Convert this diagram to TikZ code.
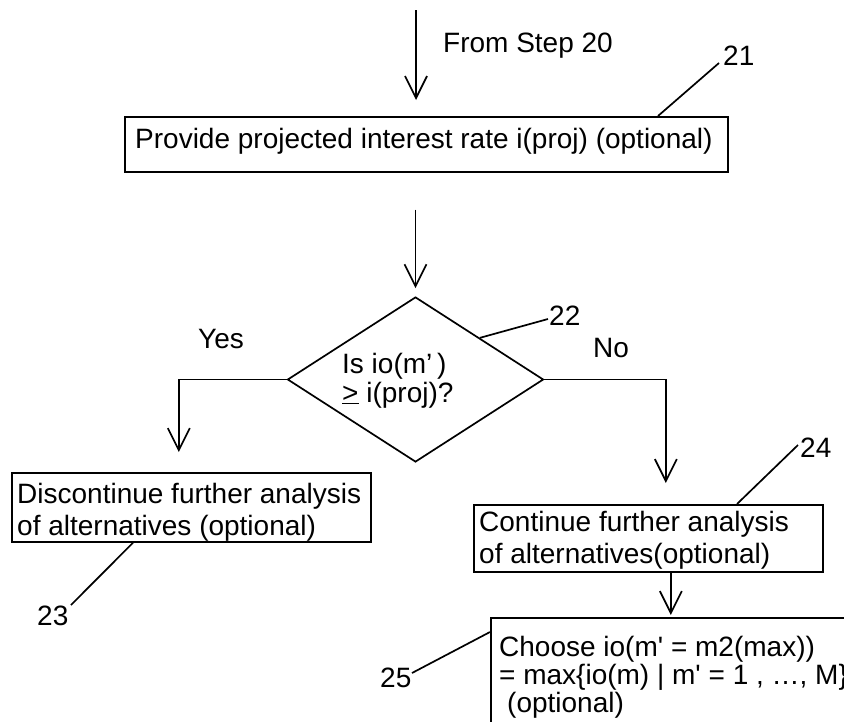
\documentclass[tikz,border=0pt]{standalone}
\usepackage{fontspec}
\setmainfont{Liberation Sans}
\usetikzlibrary{arrows.meta,shapes.geometric}
\begin{document}
\begin{tikzpicture}[x=1pt,y=-1pt,
  ln/.style={line width=1.7pt},
  arr/.style={ln,-{Straight Barb[length=22pt,width=22pt]}},
  boxs/.style={draw,ln,rectangle,inner sep=0pt,anchor=north west},
  txt/.style={inner sep=0pt,font=\fontsize{28}{32}\selectfont},
  lbl/.style={txt,anchor=base west},
  blk/.style={txt,anchor=north west,align=left},
]
\useasboundingbox (0,0) rectangle (844,721);
\clip (0,0) rectangle (844,721);

% boxes
\node[boxs,minimum width=603pt,minimum height=55pt] (b21) at (124,116) {};
\node[draw,ln,diamond,minimum width=256pt,minimum height=165pt,inner sep=0pt] (dia) at (415.5,379.5) {};
\node[boxs,minimum width=359pt,minimum height=69pt] (b23) at (11,472) {};
\node[boxs,minimum width=349pt,minimum height=67pt] (b24) at (473,504) {};
\node[boxs,minimum width=420pt,minimum height=160pt] (b25) at (490,617) {};

% texts
\node[lbl] (from) at (443,52) {From Step 20};
\node[lbl] (t21) at (135,148) {Provide projected interest rate i(proj) (optional)};
\node[blk,font=\fontsize{28}{29}\selectfont] (tdia) at (342,352.6) {Is io(m’\,)\\\underline{>} i(proj)?};
\node[blk] (t23) at (17,483) {Discontinue further analysis\\of alternatives (optional)};
\node[blk] (t24) at (479,511.3) {Continue further analysis\\of alternatives(optional)};
\node[blk,font=\fontsize{28}{28}\selectfont] (t25) at (499,635.8) {Choose io(m\textquotesingle{} = m2(max))\\= max\{io(m) \textbar{} m\textquotesingle{} = 1 , \ldots, M\}\\\hspace*{8pt}(optional)};
\node[lbl] (lyes) at (198,348) {Yes};
\node[lbl] (lno) at (593,357) {No};
\node[lbl] (l21) at (723,65) {21};
\node[lbl] (l22) at (549,325) {22};
\node[lbl] (l23) at (37,625) {23};
\node[lbl] (l24) at (800,457) {24};
\node[lbl] (l25) at (380,687) {25};

% flow connectors
\coordinate (src) at (416,10);
\draw[arr,shorten >=16pt] (src) -- (src |- b21.north);
\draw[arr,shorten <=37pt,shorten >=8pt] (b21.south -| dia.north) -- (dia.north);
\draw[arr,shorten >=20pt] (dia.west) -| ([xshift=-12.5pt]b23.north);
\draw[arr,shorten >=21pt] (dia.east) -| ([xshift=17.5pt]b24.north);
\draw[arr,shorten >=2pt] ([xshift=22.5pt]b24.south) -- ([xshift=22.5pt]b24.south |- b25.north);

% leader lines
\coordinate (k21) at (719,63);
\coordinate (k22) at (548,319);
\coordinate (k23) at (71,605);
\coordinate (k24) at (798,445);
\coordinate (k25) at (412,673);
\draw[ln] ([xshift=534pt]b21.north west) -- (k21);
\draw[ln] (dia.north east) -- (k22);
\draw[ln] ([xshift=122pt]b23.south west) -- (k23);
\draw[ln] ([xshift=264pt]b24.north west) -- (k24);
\draw[ln] ([yshift=-15pt]b25.north west) -- (k25);
\end{tikzpicture}
\end{document}
